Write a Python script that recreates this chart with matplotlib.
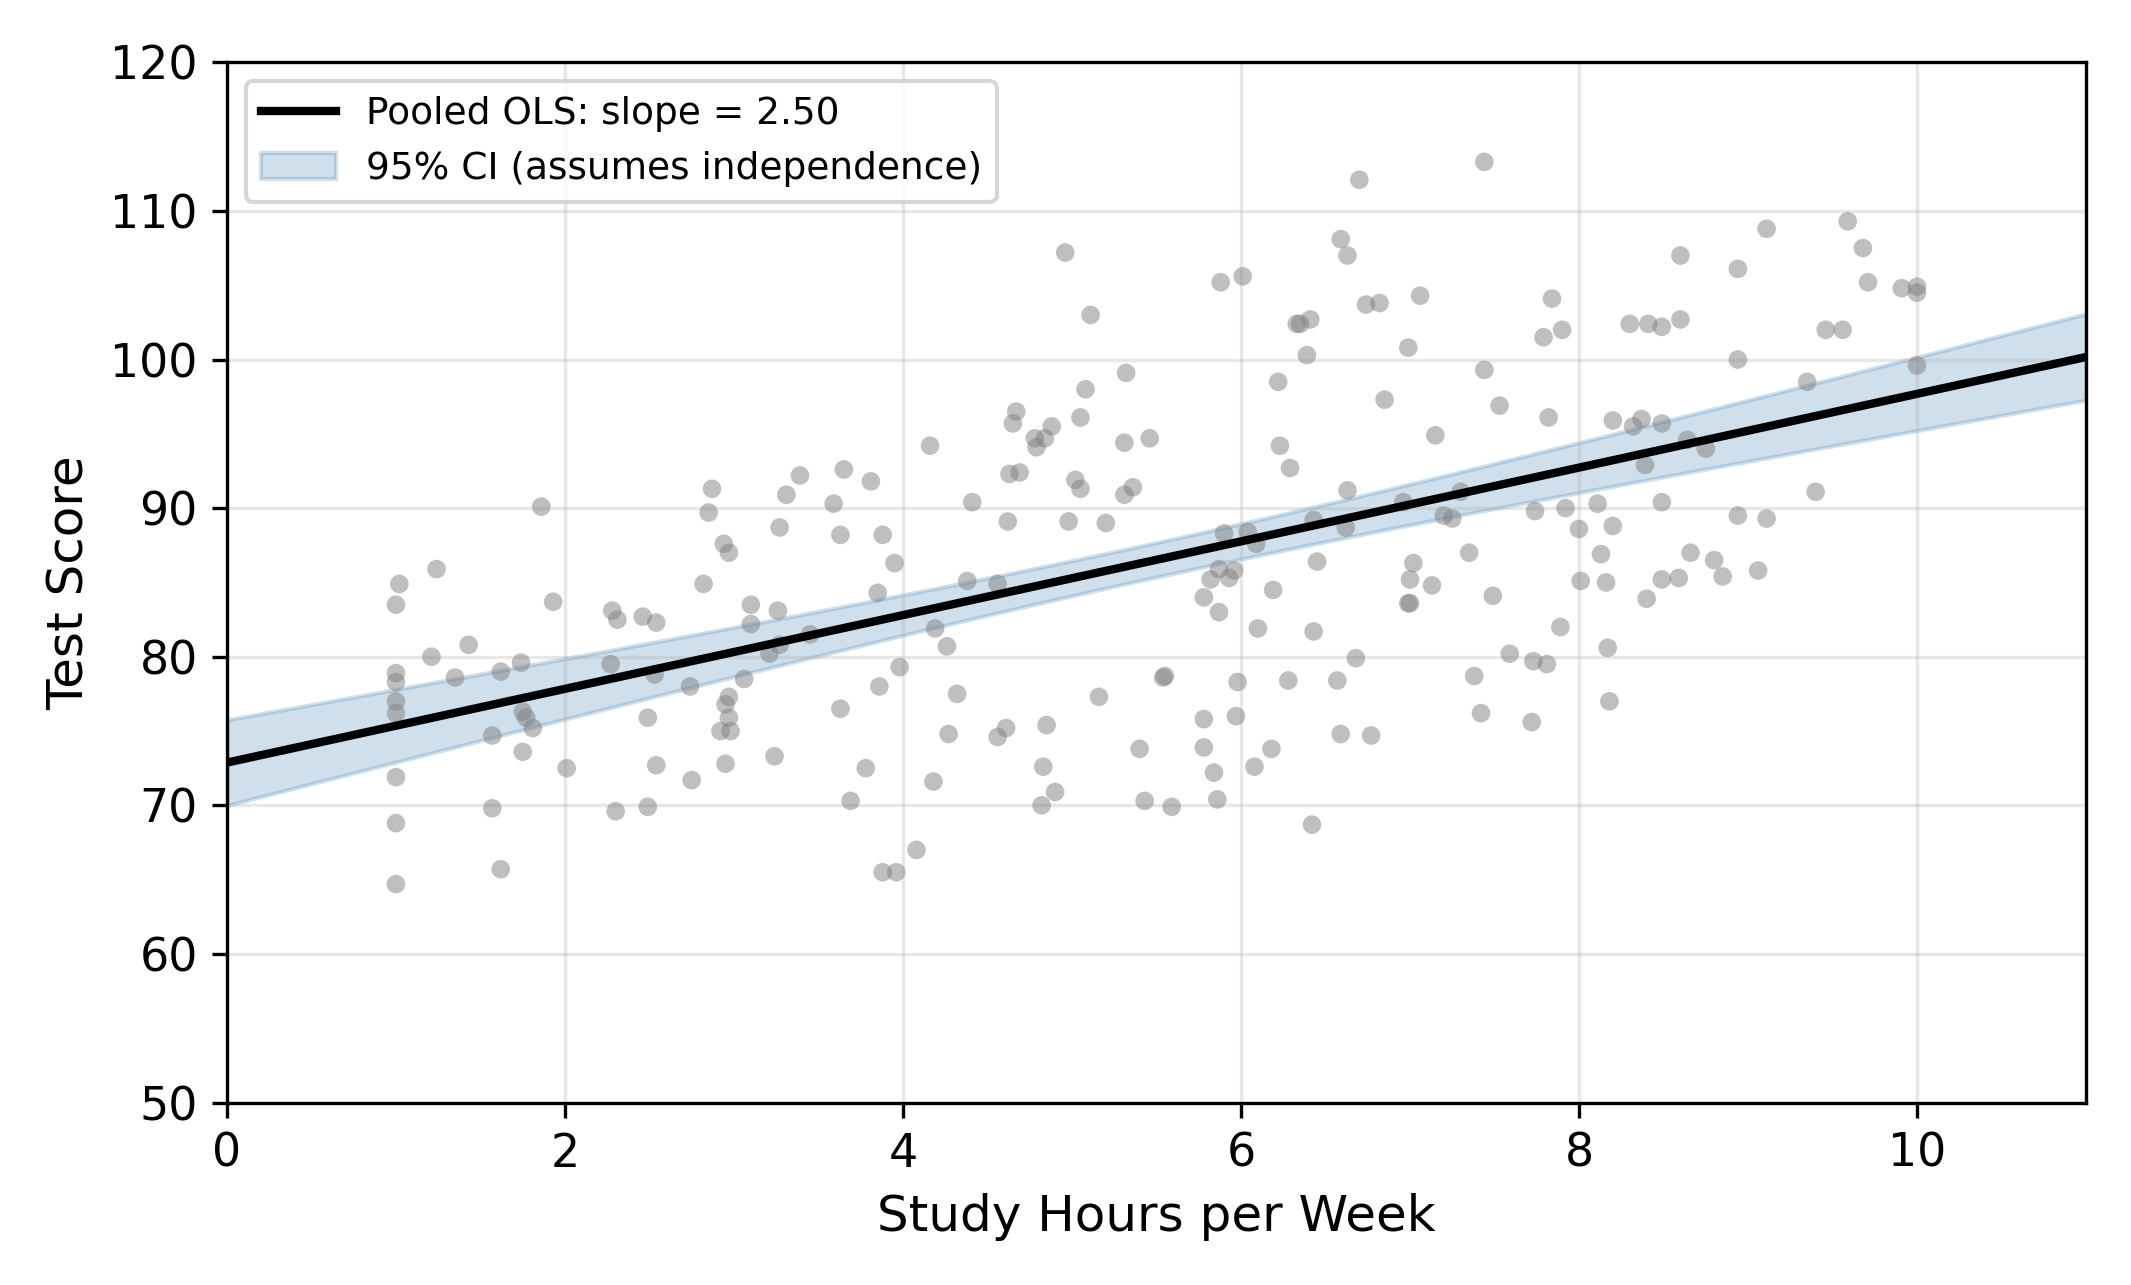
import matplotlib
matplotlib.use('Agg')

import numpy as np
import matplotlib.pyplot as plt

# Scatter data (study hours, test score)
hours = [
    1.86, 2.87, 2.85, 3.39, 3.31, 3.65, 3.81, 3.59,
    4.96, 5.11, 5.32, 5.08, 4.67, 4.65, 4.88, 5.05, 4.78, 4.84, 4.79, 4.16,
    5.31, 5.46, 4.63, 4.69, 5.02, 5.05, 5.36, 5.31, 4.41, 4.62, 4.98, 5.20,
    6.70, 6.59, 6.63, 5.88, 6.01, 6.74, 6.82, 7.06, 6.33, 6.35, 6.41, 6.39,
    6.99, 6.22, 6.85, 6.23, 6.29, 7.15, 6.63, 6.96, 6.43,
    7.44, 7.84, 7.79, 7.90, 8.60, 8.30, 8.41, 8.49, 8.60, 7.44, 7.53, 7.82,
    8.20, 8.32, 8.37, 8.49, 8.64, 8.39, 7.30, 7.20, 7.25, 7.74, 7.92, 8.11,
    8.49, 8.00, 8.20,
    9.11, 9.59, 9.68, 8.94, 9.71, 9.91, 10.0, 10.0, 9.46, 9.56, 8.94, 10.0,
    9.35, 8.75, 9.40, 8.94, 9.11,
    1.24, 1.02, 1.00, 1.93, 1.43, 1.21, 1.00, 1.00, 1.35, 1.62, 1.74, 1.00,
    1.00, 2.27, 2.28, 2.31, 2.46, 1.75, 1.77, 1.81, 1.57, 1.75, 2.01, 1.00,
    1.57, 2.30, 1.00, 1.62, 1.00,
    3.27, 3.63, 3.88, 2.94, 2.97, 3.95, 2.82, 3.85, 3.10, 3.26, 3.10, 2.54,
    3.45, 3.27, 3.21, 2.53, 2.74, 3.06, 3.98, 3.86, 2.97, 2.95, 2.97, 2.92,
    2.98, 3.63, 2.49, 2.54, 2.75, 2.95, 3.24, 3.78, 3.69, 2.49, 3.88, 3.96,
    4.08,
    4.38, 4.56, 4.19, 4.26, 4.32, 5.16, 5.54, 5.55, 4.27, 4.61, 4.56, 4.85,
    5.40, 4.83, 4.18, 4.90, 4.82, 5.43, 5.59,
    5.90, 6.04, 6.09, 6.62, 6.45, 5.87, 5.96, 5.82, 5.93, 5.78, 6.19, 5.87,
    6.10, 6.43, 7.02, 7.00, 6.99, 7.00, 7.13, 6.68, 5.98, 6.28, 6.57, 5.78,
    5.97, 6.59, 6.77, 5.78, 6.18, 6.08, 5.84, 5.86, 6.42,
    7.35, 8.13, 8.66, 7.49, 8.01, 8.16, 8.40, 8.49, 8.59, 7.89, 7.59, 8.17,
    7.73, 7.81, 7.38, 7.42, 8.18, 7.72,
    8.80, 8.85, 9.06,
]
scores = [
    90.1, 91.3, 89.7, 92.2, 90.9, 92.6, 91.8, 90.3,
    107.2, 103.0, 99.1, 98.0, 96.5, 95.7, 95.5, 96.1, 94.7, 94.7, 94.1, 94.2,
    94.4, 94.7, 92.3, 92.4, 91.9, 91.3, 91.4, 90.9, 90.4, 89.1, 89.1, 89.0,
    112.1, 108.1, 107.0, 105.2, 105.6, 103.7, 103.8, 104.3, 102.4, 102.4, 102.7, 100.3,
    100.8, 98.5, 97.3, 94.2, 92.7, 94.9, 91.2, 90.4, 89.2,
    113.3, 104.1, 101.5, 102.0, 107.0, 102.4, 102.4, 102.2, 102.7, 99.3, 96.9, 96.1,
    95.9, 95.5, 96.0, 95.7, 94.6, 92.9, 91.1, 89.5, 89.3, 89.8, 90.0, 90.3,
    90.4, 88.6, 88.8,
    108.8, 109.3, 107.5, 106.1, 105.2, 104.8, 104.9, 104.5, 102.0, 102.0, 100.0, 99.6,
    98.5, 94.0, 91.1, 89.5, 89.3,
    85.9, 84.9, 83.5, 83.7, 80.8, 80.0, 78.9, 78.3, 78.6, 79.0, 79.6, 77.0,
    76.2, 79.5, 83.1, 82.5, 82.7, 76.3, 75.9, 75.2, 74.7, 73.6, 72.5, 71.9,
    69.8, 69.6, 68.8, 65.7, 64.7,
    88.7, 88.2, 88.2, 87.6, 87.0, 86.3, 84.9, 84.3, 83.5, 83.1, 82.2, 82.3,
    81.5, 80.8, 80.2, 78.8, 78.0, 78.5, 79.3, 78.0, 77.3, 76.8, 75.9, 75.0,
    75.0, 76.5, 75.9, 72.7, 71.7, 72.8, 73.3, 72.5, 70.3, 69.9, 65.5, 65.5,
    67.0,
    85.1, 84.9, 81.9, 80.7, 77.5, 77.3, 78.6, 78.7, 74.8, 75.2, 74.6, 75.4,
    73.8, 72.6, 71.6, 70.9, 70.0, 70.3, 69.9,
    88.3, 88.4, 87.6, 88.7, 86.4, 85.9, 85.8, 85.2, 85.3, 84.0, 84.5, 83.0,
    81.9, 81.7, 86.3, 85.2, 83.6, 83.6, 84.8, 79.9, 78.3, 78.4, 78.4, 75.8,
    76.0, 74.8, 74.7, 73.9, 73.8, 72.6, 72.2, 70.4, 68.7,
    87.0, 86.9, 87.0, 84.1, 85.1, 85.0, 83.9, 85.2, 85.3, 82.0, 80.2, 80.6,
    79.7, 79.5, 78.7, 76.2, 77.0, 75.6,
    86.5, 85.4, 85.8,
]

SLOPE_LABEL = 'Pooled OLS: slope = 2.50'
CI_LABEL = '95% CI (assumes independence)'


def ols_with_ci(x, y, x_grid, z=1.96):
    """Fit y = a + b x and return line plus a naive 95% band."""
    x = np.asarray(x)
    y = np.asarray(y)
    n = len(x)
    b, a = np.polyfit(x, y, 1)
    resid = y - (a + b * x)
    s = np.sqrt(np.sum(resid**2) / (n - 2))
    sxx = np.sum((x - x.mean())**2)
    fit = a + b * x_grid
    se = s * np.sqrt(1.0 / n + (x_grid - x.mean())**2 / sxx)
    return fit, fit - z * se, fit + z * se, b


def main():
    fig = plt.figure(figsize=(2131 / 300, 1285 / 300), dpi=300)
    ax = fig.add_axes([0.1065, 0.142, 0.8724, 0.8095])

    ax.scatter(hours, scores, s=20, color='gray', alpha=0.5,
               edgecolors='none', zorder=2)

    x_grid = np.linspace(0, 11, 200)
    fit, lo, hi, slope = ols_with_ci(hours, scores, x_grid)

    ax.plot(x_grid, fit, color='black', linewidth=2, label=SLOPE_LABEL, zorder=3)
    ax.fill_between(x_grid, lo, hi, color='steelblue', alpha=0.25,
                    label=CI_LABEL, zorder=1)

    ax.set_xlim(0, 11)
    ax.set_ylim(50, 120)
    ax.set_xlabel('Study Hours per Week', fontsize=12)
    ax.set_ylabel('Test Score', fontsize=12)
    ax.tick_params(labelsize=11)
    ax.grid(True, alpha=0.3)
    ax.legend(loc='upper left', fontsize=9)

    fig.savefig('out.png', dpi=300)
    plt.close(fig)


if __name__ == '__main__':
    main()
